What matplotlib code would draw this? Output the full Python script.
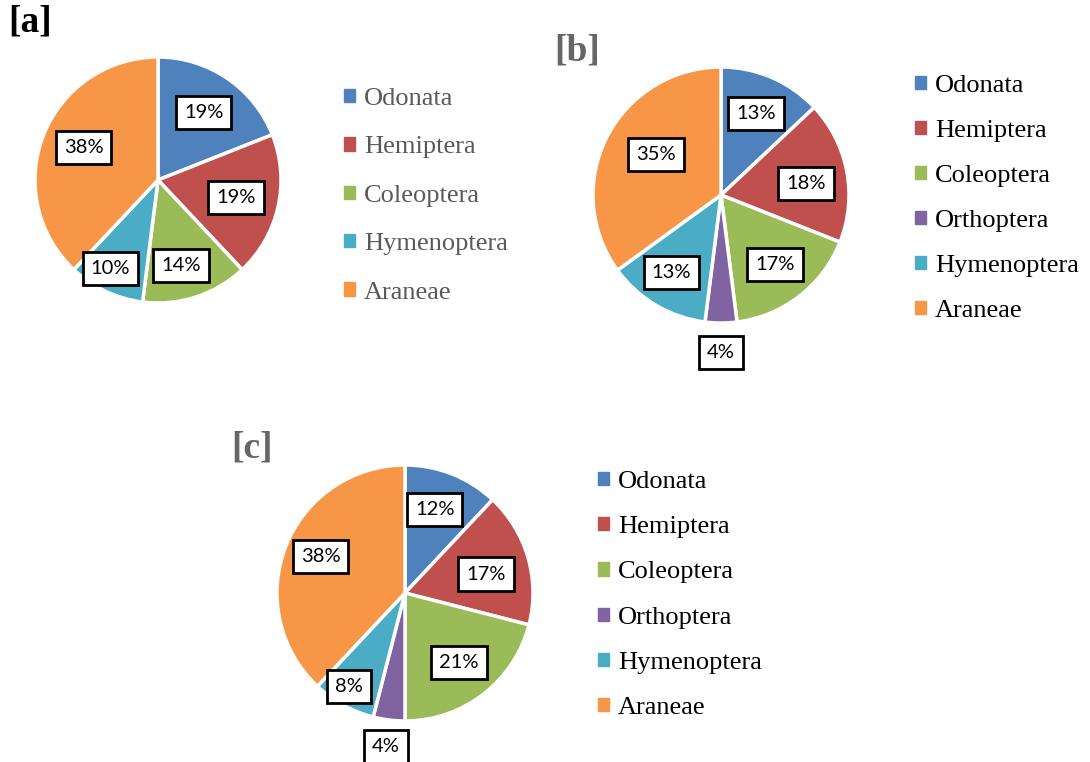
import numpy as np
import matplotlib
matplotlib.use('Agg')
import matplotlib.pyplot as plt
from matplotlib.patches import Patch

W, H = 1090, 762

orders_a = ['Odonata', 'Hemiptera', 'Coleoptera', 'Hymenoptera', 'Araneae']
orders_bc = ['Odonata', 'Hemiptera', 'Coleoptera', 'Orthoptera', 'Hymenoptera', 'Araneae']
share_a = [19, 19, 14, 10, 38]
share_b = [13, 18, 17, 4, 13, 35]
share_c = [12, 17, 21, 4, 8, 38]

colors = {'Odonata': '#4f81bd', 'Hemiptera': '#c0504d', 'Coleoptera': '#9bbb59',
          'Orthoptera': '#8064a2', 'Hymenoptera': '#4bacc6', 'Araneae': '#f79646'}

# radial position of each percentage box (fraction of the radius)
lab_r_a = [0.66, 0.65, 0.72, 0.82, 0.66]
lab_r_b = [0.69, 0.67, 0.69, 1.23, 0.72, 0.60]
lab_r_c = [0.69, 0.65, 0.69, 1.21, 0.85, 0.72]
# small angular nudges (deg) for the box placement
lab_da_a = [0, 0, -3, -3, -2]
lab_da_b = [0, -3, 0, 0, -2, -5]
lab_da_c = [2, -3, 0, 0, -2, -2]

fig = plt.figure(figsize=(W / 100, H / 100), dpi=100)


def pie_panel(cx, cy, r, names, vals, lab_r, lab_da):
    k = 1.5
    ax = fig.add_axes([(cx - k * r) / W, 1 - (cy + k * r) / H, 2 * k * r / W, 2 * k * r / H])
    wedges, _ = ax.pie(vals, colors=[colors[n] for n in names], startangle=90,
                       counterclock=False, radius=1,
                       wedgeprops=dict(edgecolor='white', linewidth=2.5))
    ax.set_xlim(-k, k)
    ax.set_ylim(-k, k)
    ax.axis('off')
    for w, v, d, da in zip(wedges, vals, lab_r, lab_da):
        ang = np.deg2rad((w.theta1 + w.theta2) / 2 + da)
        ax.text(d * np.cos(ang), d * np.sin(ang), f'{v}%', ha='center', va='center',
                fontsize=14.5, family='Lato',
                bbox=dict(boxstyle='square,pad=0.4', fc='white', ec='black', lw=2))
    return ax


def legend(names, x, y, color, spacing):
    handles = [Patch(color=colors[n]) for n in names]
    leg = fig.legend(handles, names, loc='upper left', bbox_to_anchor=(x / W, 1 - y / H),
                     frameon=False, handlelength=0.4, handleheight=0.4,
                     handletextpad=0.35, labelspacing=spacing, borderaxespad=0,
                     borderpad=0, prop=dict(family='Liberation Serif', size=19))
    for t in leg.get_texts():
        t.set_color(color)


pie_panel(158, 180, 123, orders_a, share_a, lab_r_a, lab_da_a)
pie_panel(721, 195, 128, orders_bc, share_b, lab_r_b, lab_da_b)
pie_panel(405, 593, 128, orders_bc, share_c, lab_r_c, lab_da_c)

legend(orders_a, 344, 88, '#595959', 1.0)
legend(orders_bc, 915, 75, 'black', 0.87)
legend(orders_bc, 598, 471, 'black', 0.88)

fig.text(8 / W, 1 - 22 / H, '[a]', fontsize=27, fontweight='bold', family='Liberation Serif',
         color='black', va='center')
fig.text(554 / W, 1 - 51 / H, '[b]', fontsize=27, fontweight='bold', family='Liberation Serif',
         color='#666666', va='center')
fig.text(231 / W, 1 - 448 / H, '[c]', fontsize=27, fontweight='bold', family='Liberation Serif',
         color='#666666', va='center')

fig.savefig('out.png', dpi=100, facecolor='white')
